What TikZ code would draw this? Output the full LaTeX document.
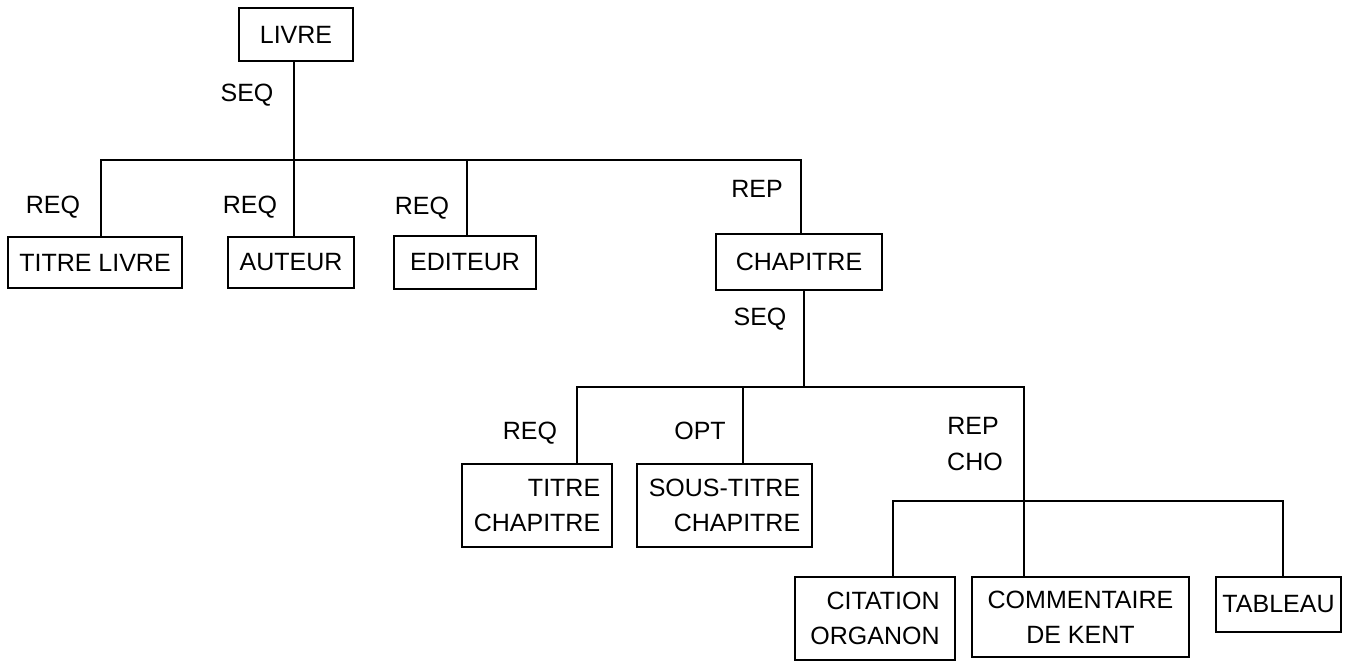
\documentclass[tikz,border=0pt]{standalone}
\usepackage{fontspec}
\setmainfont{Liberation Sans}
\begin{document}
\begin{tikzpicture}[x=1pt,y=-1pt,
  every node/.style={font=\fontsize{25}{35}\selectfont, inner sep=0pt},
  box/.style={draw, line width=1.5pt, align=right},
  tag/.style={anchor=base},
  link/.style={line width=1.5pt}]
\useasboundingbox (0,0) rectangle (1356,661);

% element boxes
\node[box, minimum width=114pt, minimum height=53pt] (livre) at (296,34.5) {LIVRE};
\node[box, minimum width=174pt, minimum height=51pt] (titrelivre) at (95,262.5) {TITRE LIVRE};
\node[box, minimum width=126pt, minimum height=51pt] (auteur) at (291,262.5) {AUTEUR};
\node[box, minimum width=142pt, minimum height=53pt] (editeur) at (465,262.5) {EDITEUR};
\node[box, minimum width=166pt, minimum height=56pt] (chapitre) at (799,262) {CHAPITRE};
\node[box, minimum width=150pt, minimum height=83pt] (tch) at (537,505.5) {TITRE\\CHAPITRE};
\node[box, minimum width=175pt, minimum height=83pt] (stch) at (724.5,505.5) {SOUS-TITRE\\CHAPITRE};
\node[box, minimum width=160pt, minimum height=83pt] (cit) at (875,618.5) {CITATION\\ORGANON};
\node[box, align=center, minimum width=217pt, minimum height=80pt] (com) at (1080.5,617) {COMMENTAIRE\\DE KENT};
\node[box, minimum width=125pt, minimum height=55pt] (tab) at (1278.5,604.5) {TABLEAU};

% junction levels
\coordinate (bar1) at (0,160);
\coordinate (bar2) at (0,387);
\coordinate (cho) at (1024,501);

% LIVRE sequence
\draw[link] ([xshift=-2pt]livre.south) -- ([xshift=-2pt]livre.south |- bar1);
\draw[link] ([xshift=6pt]titrelivre.north) |- ([xshift=2pt]chapitre.north |- bar1) -- ([xshift=2pt]chapitre.north);
\draw[link] ([xshift=3pt]auteur.north) -- ([xshift=3pt]auteur.north |- bar1);
\draw[link] ([xshift=2pt]editeur.north) -- ([xshift=2pt]editeur.north |- bar1);

% CHAPITRE sequence
\draw[link] ([xshift=5pt]chapitre.south) -- ([xshift=5pt]chapitre.south |- bar2);
\draw[link] ([xshift=40pt]tch.north) |- (cho |- bar2) -- (cho);
\draw[link] ([xshift=18.5pt]stch.north) -- ([xshift=18.5pt]stch.north |- bar2);

% repeated choice
\draw[link] ([xshift=18pt]cit.north) |- ([xshift=4.5pt]tab.north |- cho) -- ([xshift=4.5pt]tab.north);
\draw[link] (cho) -- (com.north -| cho);

% connector labels
\node[tag] (l1) at (247,101) {SEQ};
\node[tag] (l2) at (53,213) {REQ};
\node[tag] (l3) at (250,213) {REQ};
\node[tag] (l4) at (422,214) {REQ};
\node[tag] (l5) at (757,197) {REP};
\node[tag] (l6) at (760,325) {SEQ};
\node[tag] (l7) at (530,439) {REQ};
\node[tag] (l8) at (700,439) {OPT};
\node[tag] (l9) at (973,434) {REP};
\node[tag] (l10) at (975,470) {CHO};
\end{tikzpicture}
\end{document}
